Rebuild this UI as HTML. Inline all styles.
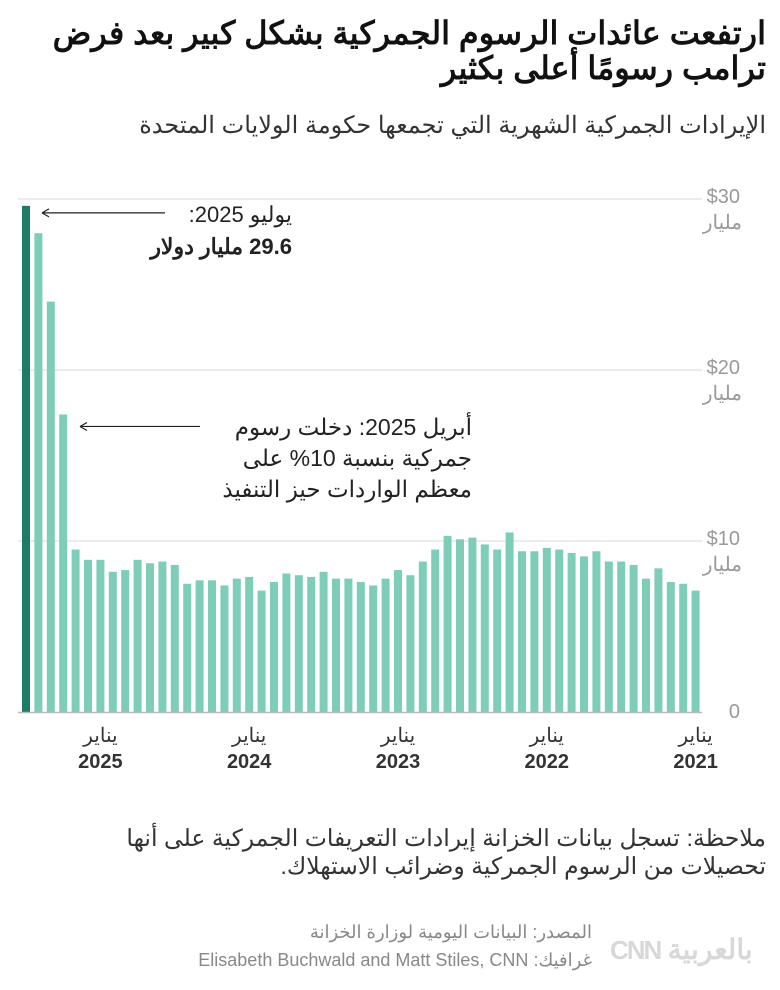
<!DOCTYPE html>
<html><head><meta charset="utf-8">
<style>
body{margin:0;background:#fff;width:780px;height:990px;overflow:hidden;font-family:"Liberation Sans","Noto Sans CJK SC",sans-serif;position:relative;color:#222}
.t{position:absolute;direction:rtl;text-align:right;white-space:nowrap}
</style></head><body>
<div class="t" style="right:14px;top:16px;font-size:32px;font-weight:bold;line-height:35px;color:#111">ارتفعت عائدات الرسوم الجمركية بشكل كبير بعد فرض<br>ترامب رسومًا أعلى بكثير</div>
<div class="t" style="right:14px;top:111px;font-size:24px;color:#333">الإيرادات الجمركية الشهرية التي تجمعها حكومة الولايات المتحدة</div>
<svg id="chart" width="780" height="790" style="position:absolute;left:0;top:0" font-family="Liberation Sans, Noto Sans CJK SC, sans-serif"></svg>
<div class="t" style="right:14px;top:824px;font-size:23.5px;line-height:28px;color:#333">ملاحظة: تسجل بيانات الخزانة إيرادات التعريفات الجمركية على أنها<br>تحصيلات من الرسوم الجمركية وضرائب الاستهلاك.</div>
<div class="t" style="right:188px;top:918px;font-size:18px;line-height:28px;color:#888">المصدر: البيانات اليومية لوزارة الخزانة<br>غرافيك: Elisabeth Buchwald and Matt Stiles, CNN</div>
<div style="position:absolute;left:610px;top:922px;width:150px;height:56px;color:#d8d8d8;font-weight:bold;white-space:nowrap;line-height:56px;font-size:26px"><span style="letter-spacing:-2px">CNN</span> <span style="font-size:28px">بالعربية</span></div>
<script>
const months=["Jul 2025","Jun 2025","May 2025","Apr 2025","Mar 2025","Feb 2025","Jan 2025","Dec 2024","Nov 2024","Oct 2024","Sep 2024","Aug 2024","Jul 2024","Jun 2024","May 2024","Apr 2024","Mar 2024","Feb 2024","Jan 2024","Dec 2023","Nov 2023","Oct 2023","Sep 2023","Aug 2023","Jul 2023","Jun 2023","May 2023","Apr 2023","Mar 2023","Feb 2023","Jan 2023","Dec 2022","Nov 2022","Oct 2022","Sep 2022","Aug 2022","Jul 2022","Jun 2022","May 2022","Apr 2022","Mar 2022","Feb 2022","Jan 2022","Dec 2021","Nov 2021","Oct 2021","Sep 2021","Aug 2021","Jul 2021","Jun 2021","May 2021","Apr 2021","Mar 2021","Feb 2021","Jan 2021"];
const values=[29.6,28.0,24.0,17.4,9.5,8.9,8.9,8.2,8.3,8.9,8.7,8.8,8.6,7.5,7.7,7.7,7.4,7.8,7.9,7.1,7.6,8.1,8.0,7.9,8.2,7.8,7.8,7.6,7.4,7.8,8.3,8.0,8.8,9.5,10.3,10.1,10.2,9.8,9.5,10.5,9.4,9.4,9.6,9.5,9.3,9.1,9.4,8.8,8.8,8.6,7.8,8.4,7.6,7.5,7.1];
const yTicks=[0,10,20,30];
const yTickLabels=["0","$10","$20","$30"];
const xTickIdx=[6,18,30,42,54];
const xTickYears=["2025","2024","2023","2022","2021"];
const svg=document.getElementById('chart');
const NS="http://www.w3.org/2000/svg";
const y0=712,pxPer=17.1,x0=22,step=12.4,bw=8;
const Y=v=>y0-v*pxPer;
const X=i=>x0+i*step;
function mk(t,a,txt){const e=document.createElementNS(NS,t);for(const k in a)e.setAttribute(k,a[k]);if(txt!=null)e.textContent=txt;svg.appendChild(e);return e;}
yTicks.forEach((v,i)=>{
 if(v>0){const l=mk('line',{x1:18,x2:702,y1:Y(v),y2:Y(v),stroke:'#e6e6e6','stroke-width':1.5});
 
 }
 const t=mk('text',{x:740,y:Y(v)+(v?4:6),'font-size':20,fill:'#999','text-anchor':'end'},yTickLabels[i]);
 
 
 if(v){const u=mk('text',{x:742,y:Y(v)+30,'font-size':20,fill:'#999','text-anchor':'end'},'مليار');
 
 }
});
values.forEach((v,i)=>{
 const r=mk('rect',{x:X(i),y:Y(v),width:bw,height:v*pxPer,fill:i==0?'#1f7a66':'#7ecdb9'});
 
 
});
const ax=mk('line',{x1:18,x2:702,y1:y0+0.5,y2:y0+0.5,stroke:'#bbb','stroke-width':1.5});


xTickIdx.forEach((idx,i)=>{
 const cx=X(idx)+bw/2;
 const a=mk('text',{x:cx,y:742,'font-size':20,fill:'#333','text-anchor':'middle'},'يناير');
 
 
 const b=mk('text',{x:cx,y:768,'font-size':20,fill:'#333','font-weight':'bold','text-anchor':'middle'},xTickYears[i]);
 
 
});
const a1=mk('line',{x1:42,x2:165,y1:Y(values[0])+7,y2:Y(values[0])+7,stroke:'#222','stroke-width':1.2});


const h1=mk('path',{d:`M${42} ${Y(values[0])+7} l7 -4 M42 ${Y(values[0])+7} l7 4`,stroke:'#222',fill:'none','stroke-width':1.2});


const a2=mk('line',{x1:80,x2:200,y1:Y(values[3])+12,y2:Y(values[3])+12,stroke:'#222','stroke-width':1.2});


const h2=mk('path',{d:`M80 ${Y(values[3])+12} l7 -4 M80 ${Y(values[3])+12} l7 4`,stroke:'#222',fill:'none','stroke-width':1.2});


function rtlText(x,y,s,w,name,fs){const t=mk('text',{x:x,y:y,'font-size':fs,fill:'#222','font-weight':w,'text-anchor':'start',direction:'rtl'},s);
 
 }
rtlText(292,222,'يوليو 2025:','normal','annotation-july-label',22);
rtlText(292,254,'29.6 مليار دولار','bold','annotation-july-value',22);
rtlText(472,435,'أبريل 2025: دخلت رسوم','normal','annotation-april-1',23);
rtlText(472,466,'جمركية بنسبة 10% على','normal','annotation-april-2',23);
rtlText(472,497,'معظم الواردات حيز التنفيذ','normal','annotation-april-3',23);
</script>
</body></html>
